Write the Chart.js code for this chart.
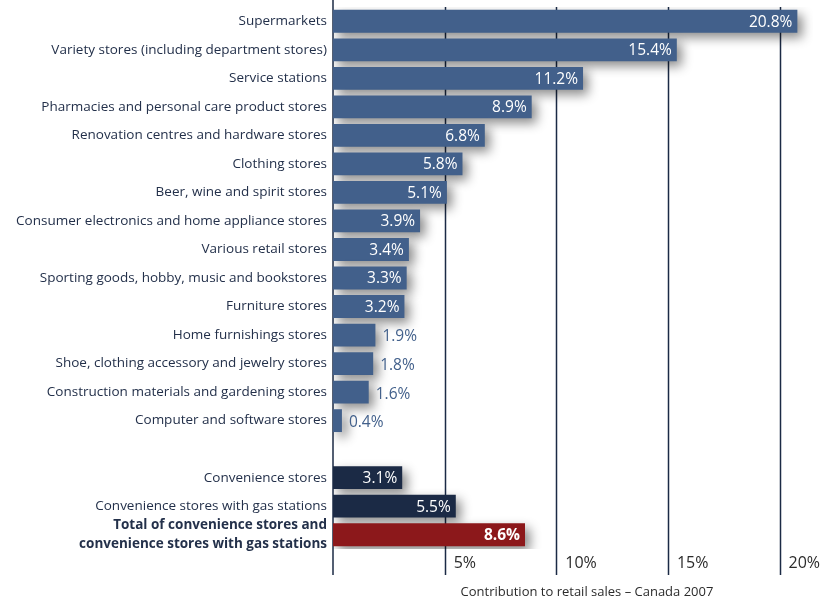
<!DOCTYPE html>
<html>
<head>
<meta charset="utf-8">
<script src="https://cdn.jsdelivr.net/npm/chart.js@4"></script>
<style>
  body { margin: 0; background: #fff; }
  #wrap { width: 827px; height: 603px; position: relative; }
</style>
</head>
<body>
<div id="wrap"><canvas id="myChart"></canvas></div>
<script>
// categories (empty one is the spacer row)
var categories = [
    'Supermarkets',
    'Variety stores (including department stores)',
    'Service stations',
    'Pharmacies and personal care product stores',
    'Renovation centres and hardware stores',
    'Clothing stores',
    'Beer, wine and spirit stores',
    'Consumer electronics and home appliance stores',
    'Various retail stores',
    'Sporting goods, hobby, music and bookstores',
    'Furniture stores',
    'Home furnishings stores',
    'Shoe, clothing accessory and jewelry stores',
    'Construction materials and gardening stores',
    'Computer and software stores',
    '',
    'Convenience stores',
    'Convenience stores with gas stations',
    ['Total of convenience stores and', 'convenience stores with gas stations']
];
var shares = [20.8, 15.4, 11.2, 8.9, 6.8, 5.8, 5.1, 3.9, 3.4, 3.3, 3.2, 1.9, 1.8, 1.6, 0.4, null, 3.1, 5.5, 8.6];
var barColors = [
    '#42608b','#42608b','#42608b','#42608b','#42608b','#42608b','#42608b','#42608b',
    '#42608b','#42608b','#42608b','#42608b','#42608b','#42608b','#42608b',
    'transparent','#1b2a45','#1b2a45','#8c181b'
];
var xTicks = [5, 10, 15, 20];
var xTitle = 'Contribution to retail sales \u2013 Canada 2007';

var lineColor = '#1b2a45';
var FONT = '"Open Sans", "Noto Sans", sans-serif';

// grid lines + x labels, drawn by hand so they can run past the plot area
var gridPlugin = {
    id: 'grid',
    beforeDatasetsDraw: function(chart) {
        var ctx = chart.ctx, xs = chart.scales.x;
        ctx.save();
        ctx.strokeStyle = lineColor;
        ctx.lineWidth = 1.5;
        var x0 = xs.getPixelForValue(0);
        ctx.beginPath();
        ctx.moveTo(x0, 0);
        ctx.lineTo(x0, 575);
        ctx.stroke();
        xTicks.forEach(function(t) {
            var x = Math.round(xs.getPixelForValue(t)) + 0.5;
            ctx.beginPath();
            ctx.moveTo(x, 7);
            ctx.lineTo(x, 575);
            ctx.stroke();
        });
        ctx.fillStyle = '#2b2b2b';
        ctx.font = '16px ' + FONT;
        ctx.textBaseline = 'middle';
        ctx.textAlign = 'left';
        xTicks.forEach(function(t) {
            ctx.fillText(t + '%', xs.getPixelForValue(t) + 9, 563);
        });
        ctx.font = '13px ' + FONT;
        ctx.textAlign = 'center';
        ctx.fillText(xTitle, 587, 592);
        ctx.restore();

        // shadow for the bars
        ctx.save();
        ctx.shadowColor = 'rgba(0,0,0,0.45)';
        ctx.shadowBlur = 11;
        ctx.shadowOffsetX = 5;
        ctx.shadowOffsetY = 5;
    },
    afterDatasetsDraw: function(chart) {
        var ctx = chart.ctx;
        ctx.restore();
        var meta = chart.getDatasetMeta(0);
        ctx.save();
        ctx.textBaseline = 'middle';
        meta.data.forEach(function(bar, i) {
            var v = shares[i];
            if (v === null) return;
            var txt = v.toFixed(1) + '%';
            if (v >= 2.5) {
                ctx.fillStyle = '#ffffff';
                ctx.textAlign = 'right';
                ctx.font = (i === 18 ? 'bold ' : '') + '15.5px ' + FONT;
                ctx.fillText(txt, bar.x - 5, bar.y + 1);
            } else {
                ctx.fillStyle = '#42608b';
                ctx.textAlign = 'left';
                ctx.font = '15.5px ' + FONT;
                ctx.fillText(txt, bar.x + 7, bar.y + 2);
            }
        });
        ctx.restore();
    }
};

var ctx = document.getElementById('myChart').getContext('2d');
var myChart = new Chart(ctx, {
    type: 'bar',
    data: {
        labels: categories,
        datasets: [{
            data: shares,
            backgroundColor: barColors,
            borderWidth: 0,
            categoryPercentage: 1.0,
            barPercentage: 0.8
        }]
    },
    options: {
        indexAxis: 'y',
        responsive: true,
        maintainAspectRatio: false,
        animation: false,
        layout: { padding: { top: 7, bottom: 54, right: 14, left: 0 } },
        plugins: { legend: { display: false }, tooltip: { enabled: false } },
        scales: {
            x: {
                display: false,
                min: 0,
                max: 21.5
            },
            y: {
                grid: { display: false, drawTicks: false },
                border: { display: false },
                afterFit: function(scale) {
                    scale.width = 333;
                    scale.paddingTop = 0;
                    scale.paddingBottom = 0;
                },
                ticks: {
                    padding: 6,
                    autoSkip: false,
                    color: '#23304a',
                    font: function(c) {
                        if (c.index === 18) return { family: FONT, size: 13.5, weight: 'bold', lineHeight: 1.35 };
                        return { family: FONT, size: 13.5 };
                    }
                }
            }
        }
    },
    plugins: [gridPlugin]
});
</script>
</body>
</html>
